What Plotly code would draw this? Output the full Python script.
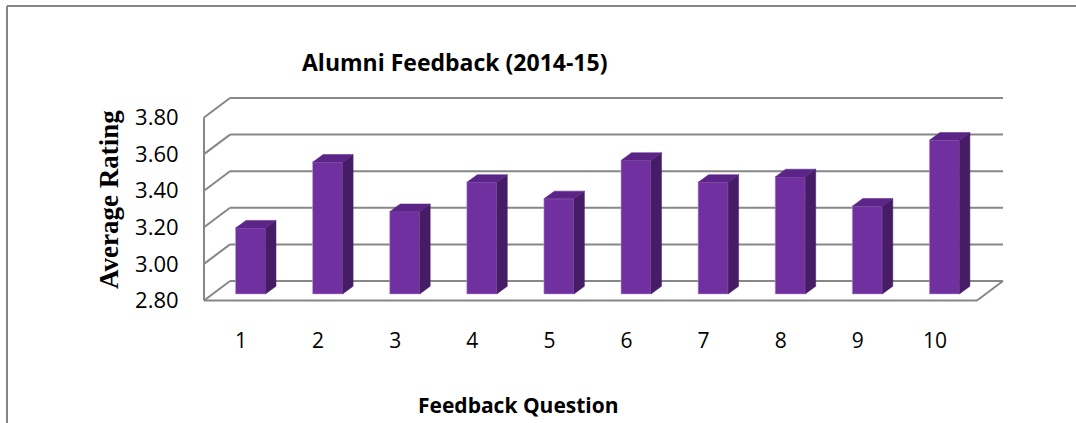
import plotly.graph_objects as go

# ---------------- data ----------------
questions = [1, 2, 3, 4, 5, 6, 7, 8, 9, 10]
ratings = [3.16, 3.52, 3.25, 3.41, 3.32, 3.53, 3.41, 3.44, 3.28, 3.64]
y_ticks = [2.80, 3.00, 3.20, 3.40, 3.60, 3.80]
y_tick_text = ["2.80", "3.00", "3.20", "3.40", "3.60", "3.80"]
x_tick_text = ["1", "2", "3", "4", "5", "6", "7", "8", "9", "10"]
chart_title = "Alumni Feedback (2014-15)"
x_title = "Feedback Question"
y_title = "Average Rating"

# ---------------- layout geometry (pixels) ----------------
W, H = 1076, 423
L, R, T, B = 200, 1010, 90, 305          # plot area box
PX_X = 77.1                              # pixels per category
PX_Y = 183.0                             # pixels per rating unit (back wall)
X1_PX = 241                              # pixel of category 1 label
BASE_PX = 281                            # pixel of y-min on back wall
Y_MIN, Y_MAX = y_ticks[0], y_ticks[-1]

x_range = [1 - (X1_PX - L) / PX_X, 1 + (R - X1_PX) / PX_X]
y_range = [Y_MIN - (B - BASE_PX) / PX_Y, Y_MIN + (BASE_PX - T) / PX_Y]

# perspective offsets
WALL_DX = 26 / PX_X
WALL_DY = 19.5 / PX_Y
BACK_LEFT = 1 + (230 - X1_PX) / PX_X
BACK_RIGHT = 1 + (1003 - X1_PX) / PX_X
FRONT_LEFT = BACK_LEFT - WALL_DX
FRONT_RIGHT = BACK_RIGHT - WALL_DX

BAR_SHIFT = 9.5 / PX_X
BAR_W = 30 / PX_X
BAR_DX = 10.5 / PX_X
BAR_DY = 7.7 / PX_Y
BAR_OFF = 13 / PX_Y

FRONT_C = "#7030A0"
SIDE_C = "#471C66"
TOP_C = "#5A2587"
GRID_C = "#878787"

fig = go.Figure()

# front faces
xc = [q + BAR_SHIFT for q in questions]
fig.add_trace(go.Bar(
    x=xc, y=[v - Y_MIN for v in ratings], base=Y_MIN - BAR_OFF, width=BAR_W,
    marker=dict(color=FRONT_C, line=dict(color="rgba(190,160,215,0.7)", width=0.8)),
    hoverinfo="skip", showlegend=False))

# side and top faces
sx, sy, tx, ty = [], [], [], []
for x, v in zip(xc, ratings):
    xl, xr = x - BAR_W / 2, x + BAR_W / 2
    b, t = Y_MIN - BAR_OFF, v - BAR_OFF
    sx += [xr, xr + BAR_DX, xr + BAR_DX, xr, xr, None]
    sy += [b, b + BAR_DY, t + BAR_DY, t, b, None]
    tx += [xl, xl + BAR_DX, xr + BAR_DX, xr, xl, None]
    ty += [t, t + BAR_DY, t + BAR_DY, t, t, None]
fig.add_trace(go.Scatter(x=sx, y=sy, mode="lines", fill="toself", fillcolor=SIDE_C,
                         line=dict(color=SIDE_C, width=0.5), hoverinfo="skip", showlegend=False))
fig.add_trace(go.Scatter(x=tx, y=ty, mode="lines", fill="toself", fillcolor=TOP_C,
                         line=dict(color=TOP_C, width=0.5), hoverinfo="skip", showlegend=False))

# tick-label axis (front plane)
fig.add_trace(go.Scatter(x=[None], y=[None], yaxis="y2", showlegend=False, hoverinfo="skip"))

# walls and gridlines
shapes = []
gl = dict(color=GRID_C, width=2)
for t in y_ticks:
    shapes.append(dict(type="line", xref="x", yref="y", x0=BACK_LEFT, y0=t, x1=BACK_RIGHT, y1=t,
                       line=gl, layer="below"))
    shapes.append(dict(type="line", xref="x", yref="y", x0=BACK_LEFT, y0=t,
                       x1=FRONT_LEFT, y1=t - WALL_DY, line=gl, layer="below"))
shapes.append(dict(type="line", xref="x", yref="y", x0=FRONT_LEFT, y0=Y_MAX - WALL_DY,
                   x1=FRONT_LEFT, y1=Y_MIN - WALL_DY, line=gl, layer="below"))
shapes.append(dict(type="line", xref="x", yref="y", x0=FRONT_LEFT, y0=Y_MIN - WALL_DY,
                   x1=FRONT_RIGHT, y1=Y_MIN - WALL_DY, line=gl, layer="below"))
shapes.append(dict(type="line", xref="x", yref="y", x0=FRONT_RIGHT, y0=Y_MIN - WALL_DY,
                   x1=BACK_RIGHT, y1=Y_MIN, line=gl, layer="below"))


def pxx(p):
    return (p - L) / (R - L)


def pxy(p):
    return (B - p) / (B - T)


# outer chart border (left and top edges visible)
shapes.append(dict(type="line", xref="paper", yref="paper", x0=pxx(7), y0=pxy(6),
                   x1=pxx(1090), y1=pxy(6), line=dict(color="#868686", width=2)))
shapes.append(dict(type="line", xref="paper", yref="paper", x0=pxx(7), y0=pxy(6),
                   x1=pxx(7), y1=pxy(440), line=dict(color="#868686", width=2)))

SANS = "Open Sans"
annotations = [
    dict(text="<b>" + chart_title + "</b>", xref="paper", yref="paper", x=pxx(454), y=pxy(62),
         showarrow=False, font=dict(family=SANS, size=23, color="black"),
         xanchor="center", yanchor="middle"),
    dict(text="<b>" + x_title + "</b>", xref="paper", yref="paper", x=pxx(518), y=pxy(405),
         showarrow=False, font=dict(family=SANS, size=21, color="black"),
         xanchor="center", yanchor="middle"),
    dict(text="<b>" + y_title + "</b>", xref="paper", yref="paper", x=pxx(109), y=pxy(200),
         showarrow=False, textangle=-90, font=dict(family="Liberation Serif", size=27, color="black"),
         xanchor="center", yanchor="middle"),
]

fig.update_layout(
    width=W, height=H,
    margin=dict(l=L, r=W - R, t=T, b=H - B, pad=0),
    paper_bgcolor="white", plot_bgcolor="white",
    showlegend=False,
    xaxis=dict(range=x_range, tickvals=questions, ticktext=x_tick_text, showgrid=False,
               zeroline=False, showline=False, ticks="outside", ticklen=17,
               tickcolor="rgba(0,0,0,0)", tickfont=dict(family=SANS, size=21, color="black"),
               fixedrange=True),
    yaxis=dict(range=y_range, showgrid=False, zeroline=False, showline=False,
               showticklabels=False, fixedrange=True),
    yaxis2=dict(range=[y_range[0] + WALL_DY, y_range[1] + WALL_DY], overlaying="y", side="left",
                tickvals=y_ticks, ticktext=y_tick_text, showgrid=False, zeroline=False,
                showline=False, ticks="outside", ticklen=16, tickcolor="rgba(0,0,0,0)",
                tickfont=dict(family=SANS, size=22, color="black"), fixedrange=True),
    shapes=shapes,
    annotations=annotations,
)

fig.write_html("out.html", config={"displayModeBar": False},
               post_script="document.body.style.margin='0';document.body.style.overflow='hidden';")
